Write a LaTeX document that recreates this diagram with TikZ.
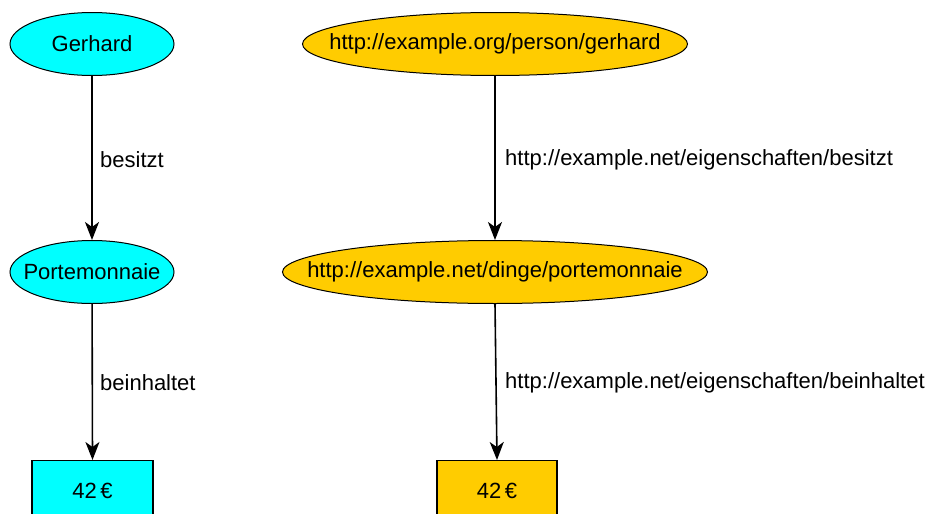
\documentclass[tikz,border=0pt]{standalone}
\usepackage{fontspec}
\setmainfont{Liberation Sans}
\usetikzlibrary{arrows.meta,shapes.geometric}
\definecolor{cy}{HTML}{00FFFF}
\definecolor{gold}{HTML}{FFCC00}
\begin{document}
\begin{tikzpicture}[x=1pt,y=-1pt,
  every node/.style={font=\fontsize{22}{24}\selectfont},
  res/.style={ellipse,draw=black,line width=1pt,inner sep=0pt,minimum height=63pt},
  lit/.style={rectangle,draw=black,line width=1.2pt,inner sep=0pt,minimum width=121pt,minimum height=64pt},
  edge/.style={draw=black,line width=1.6pt,-{Stealth[length=18pt,width=14pt,inset=5pt]}},
  lbl/.style={anchor=west,inner sep=0pt}]
\useasboundingbox (0,0) rectangle (937,514);
\fill[white] (0,0) rectangle (937,514);
% left graph
\node[res,fill=cy,minimum width=164pt] (g) at (92,44) {};
\node (gt) at (g) {Gerhard};
\node[res,fill=cy,minimum width=164pt] (p) at (92,272) {};
\node (pt) at (p) {Portemonnaie};
\node[lit,fill=cy,anchor=north] (e) at (92.5,460) {};
\node (et) at (92.5,491) {42\,€};
\draw[edge] (g) -- (p);
\draw[edge] (p) -- (e.north);
\node[lbl] (l1) at (100,160) {besitzt};
\node[lbl] (l2) at (100,383) {beinhaltet};
% right graph
\node[res,fill=gold,minimum width=385pt] (rg) at (495,44) {};
\node (rgt) at (rg) {http://example.org/person/gerhard};
\node[res,fill=gold,minimum width=425pt] (rp) at (495,272) {};
\node (rpt) at (rp) {http://example.net/dinge/portemonnaie};
\node[lit,fill=gold,anchor=north,minimum width=120pt] (re) at (497,460) {};
\node (ret) at (497,491) {42\,€};
\draw[edge] (rg.south) -- (rp.north);
\draw[edge] (rp.south) -- (re.north);
\node[lbl] (rl1) at (505,160) {http://example.net/eigenschaften/besitzt};
\node[lbl] (rl2) at (505,383) {http://example.net/eigenschaften/beinhaltet};
\end{tikzpicture}
\end{document}
